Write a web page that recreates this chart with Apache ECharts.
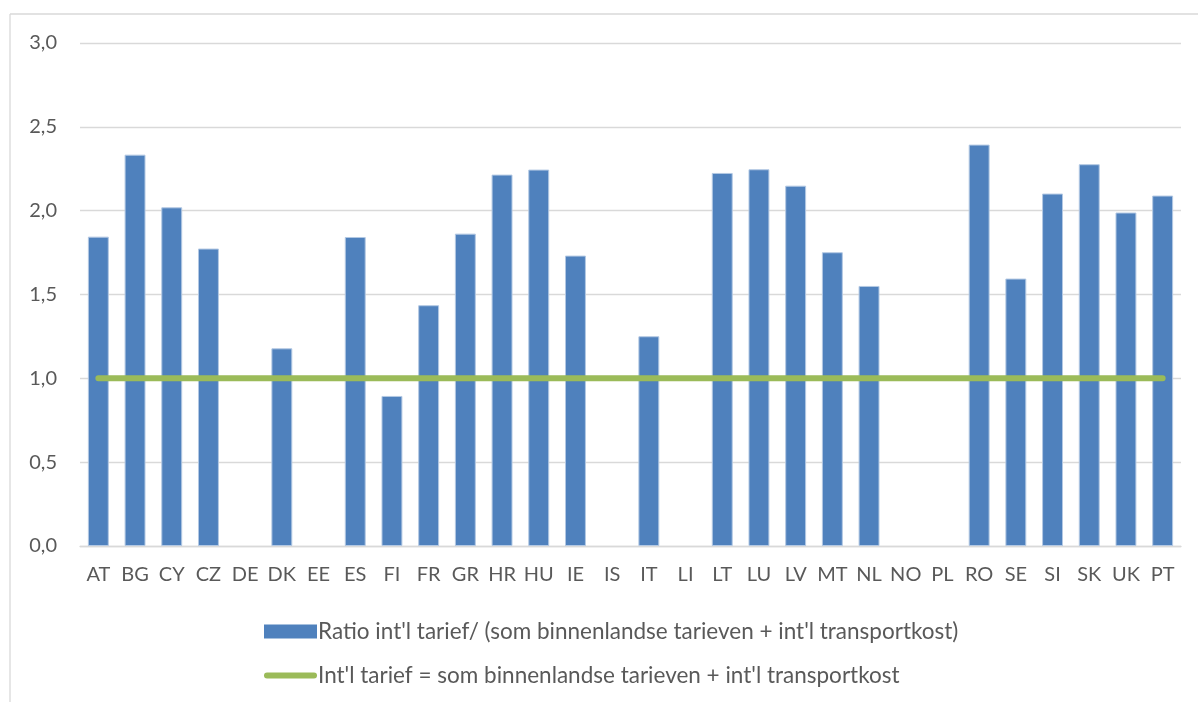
<!DOCTYPE html>
<html>
<head>
<meta charset="utf-8">
<script src="https://cdn.jsdelivr.net/npm/echarts@6/dist/echarts.min.js"></script>
<style>
html,body{margin:0;padding:0;background:#fff;}
#c{width:1198px;height:702px;}
</style>
</head>
<body>
<div id="c"></div>
<script>
var categories = ['AT','BG','CY','CZ','DE','DK','EE','ES','FI','FR','GR','HR','HU','IE','IS','IT','LI','LT','LU','LV','MT','NL','NO','PL','RO','SE','SI','SK','UK','PT'];
var ratioValues = [1.845, 2.334, 2.02, 1.774, null, 1.179, null, 1.843, 0.895, 1.436, 1.863, 2.215, 2.245, 1.732, null, 1.251, null, 2.225, 2.247, 2.149, 1.752, 1.551, null, null, 2.394, 1.595, 2.102, 2.277, 1.989, 2.09];
var referenceValues = [1,1,1,1,1,1,1,1,1,1,1,1,1,1,1,1,1,1,1,1,1,1,1,1,1,1,1,1,1,1];
var seriesNames = ["Ratio int'l tarief/ (som binnenlandse tarieven + int'l transportkost)", "Int'l tarief = som binnenlandse tarieven + int'l transportkost"];
var yTicks = {min: 0, max: 3, interval: 0.5};

var chart = echarts.init(document.getElementById('c'));
var font = 'Lato';
chart.setOption({
  backgroundColor: '#fff',
  animation: false,
  textStyle: {fontFamily: font},
  graphic: [
    {type: 'line', shape: {x1: 10, y1: 14, x2: 1198, y2: 14}, style: {stroke: '#d9d9d9', lineWidth: 1.3}},
    {type: 'line', shape: {x1: 10, y1: 14, x2: 10, y2: 702}, style: {stroke: '#d9d9d9', lineWidth: 1.3}}
  ],
  grid: {left: 80, right: 17, top: 43, bottom: 156, containLabel: false},
  legend: {
    orient: 'vertical',
    left: 264,
    top: 620,
    padding: 0,
    itemWidth: 53,
    itemHeight: 14,
    itemGap: 21,
    symbolKeepAspect: true,
    textStyle: {fontFamily: font, fontSize: 22.5, color: '#595959', padding: [0, 0, 0, -4]},
    data: [
      {name: seriesNames[0], icon: 'rect', itemStyle: {borderWidth: 0}},
      {name: seriesNames[1], icon: 'path://M3,0 L50,0 A3,3 0 0 1 50,6 L3,6 A3,3 0 0 1 3,0 Z'}
    ]
  },
  xAxis: {
    type: 'category',
    data: categories,
    axisLine: {show: true, lineStyle: {color: '#d9d9d9', width: 1.3}},
    axisTick: {show: false},
    axisLabel: {color: '#595959', fontSize: 20, margin: 19, interval: 0, fontFamily: font}
  },
  yAxis: {
    type: 'value',
    min: yTicks.min,
    max: yTicks.max,
    interval: yTicks.interval,
    axisLine: {show: false},
    axisTick: {show: false},
    splitLine: {lineStyle: {color: '#d9d9d9', width: 1.3}},
    axisLabel: {
      color: '#595959', fontSize: 20, margin: 23, fontFamily: font,
      formatter: function (v) { return v.toFixed(1).replace('.', ','); }
    }
  },
  series: [
    {
      name: seriesNames[0],
      type: 'bar',
      data: ratioValues,
      barCategoryGap: '43%',
      itemStyle: {color: '#4f81bd', borderColor: '#b3c8e3', borderWidth: 1}
    },
    {
      name: seriesNames[1],
      type: 'line',
      data: referenceValues,
      symbol: 'none',
      lineStyle: {color: '#9bbb59', width: 6, cap: 'round'},
      itemStyle: {color: '#9bbb59'},
      z: 5
    }
  ]
});
</script>
</body>
</html>
